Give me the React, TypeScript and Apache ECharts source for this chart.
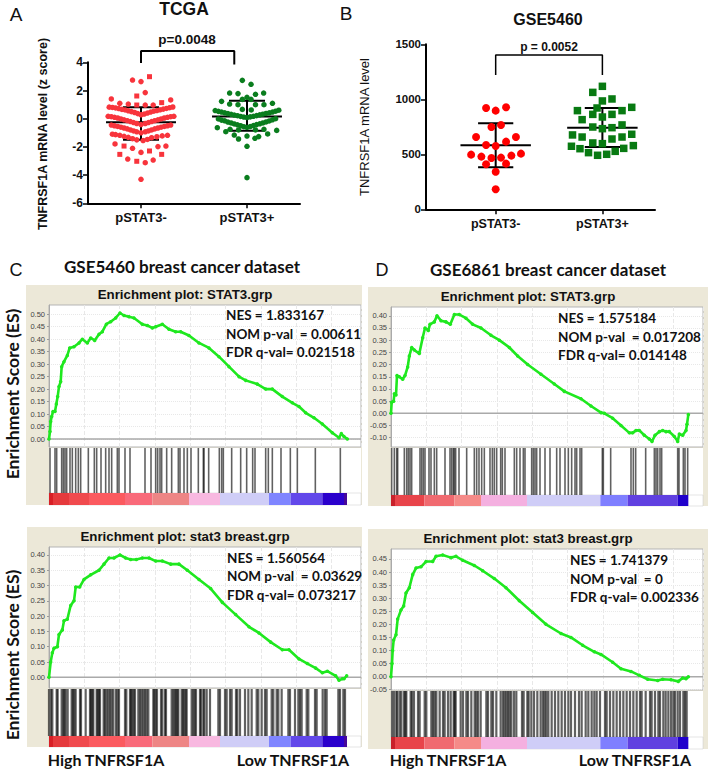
import React, { useEffect, useRef } from "react";
import * as echarts from "echarts";

const groups = ["pSTAT3-", "pSTAT3+"];

// Panel A (TCGA): [offset from group centre, z score]
const tcgaRedCircles = [
  [-0.08, 2.74], [0, 2.63], [0.04, 1.85], [-0.28, 1.4], [0.28, 1.33], [-0.2, 1.09], [-0.12, 1.04], [0.04, 0.97], [0.115, 0.97],
  [-0.3, 0.82], [-0.27, 0.8], [-0.24, 0.76], [-0.21, 0.72], [-0.18, 0.66], [-0.15, 0.62], [-0.12, 0.56], [-0.09, 0.5], [-0.06, 0.44], [-0.03, 0.36], [0, 0.28], [0.03, 0.33], [0.06, 0.4], [0.09, 0.47], [0.12, 0.53], [0.15, 0.58], [0.18, 0.63], [0.21, 0.68], [0.24, 0.73], [0.27, 0.78], [0.3, 0.83],
  [-0.31, 0.17], [-0.28, 0.14], [-0.25, 0.1], [-0.22, 0.05], [-0.19, -0.02], [-0.16, -0.08], [-0.13, -0.14], [-0.1, -0.2], [-0.07, -0.27], [-0.04, -0.34], [0, -0.42], [0.04, -0.34], [0.07, -0.27], [0.1, -0.2], [0.13, -0.14], [0.16, -0.08], [0.19, -0.02], [0.22, 0.05], [0.25, 0.1], [0.28, 0.14], [0.31, 0.17],
  [-0.28, -0.45], [-0.25, -0.5], [-0.22, -0.55], [-0.19, -0.6], [-0.16, -0.66], [-0.13, -0.72], [-0.1, -0.8], [-0.07, -0.87], [-0.04, -0.93], [0, -1], [0.04, -0.93], [0.07, -0.87], [0.1, -0.8], [0.13, -0.72], [0.16, -0.66], [0.19, -0.6], [0.22, -0.55], [0.25, -0.5], [0.28, -0.45],
  [-0.27, -1.1], [-0.24, -1.13], [-0.2, -1.18], [-0.16, -1.25], [-0.12, -1.32], [-0.08, -1.42], [-0.04, -1.5], [0.02, -1.55], [0.06, -1.47], [0.1, -1.35], [0.15, -1.28], [0.2, -1.22], [0.25, -1.18],
  [-0.245, -1.79], [-0.08, -2.1], [0, -2.39], [0.16, -1.98], [0.235, -1.94], [-0.125, -2.86], [0.04, -3.12], [0.115, -2.93], [0, -4.3],
];
const tcgaRedSquares = [
  [0.08, 2.98], [-0.04, 1.61], [0.195, 1.14], [-0.04, 0.97], [-0.16, -1.94], [0.08, -2.29], [-0.2, -2.53], [0.195, -2.53], [-0.04, -3.02],
];
const tcgaGreen = [
  [-0.044, 2.72], [0.038, 2.44], [-0.164, 1.82], [-0.085, 1.78], [0.08, 1.73], [0.157, 1.82], [-0.044, 1.37], [0, 1.52], [0.038, 1.37], [-0.24, 1.23], [0.24, 1.09],
  [-0.164, 1.04], [-0.085, 0.99], [0.08, 0.99], [0.16, 0.99], [-0.044, 0.66], [0.04, 0.62],
  [-0.3, 0.58], [-0.27, 0.52], [-0.24, 0.47], [-0.21, 0.42], [-0.18, 0.36], [-0.15, 0.31], [-0.12, 0.26], [-0.09, 0.21], [-0.06, 0.16], [-0.03, 0.12], [0, 0.08], [0.03, 0.13], [0.06, 0.17], [0.09, 0.22], [0.12, 0.27], [0.15, 0.32], [0.18, 0.37], [0.21, 0.42], [0.24, 0.47], [0.27, 0.53], [0.3, 0.6],
  [-0.27, -0.02], [-0.24, -0.1], [-0.21, -0.15], [-0.18, -0.24], [-0.15, -0.3], [-0.12, -0.37], [-0.09, -0.43], [-0.06, -0.5], [-0.03, -0.57], [0, -0.62], [0.03, -0.56], [0.06, -0.49], [0.09, -0.42], [0.12, -0.36], [0.15, -0.3], [0.18, -0.23], [0.21, -0.16], [0.24, -0.08], [0.27, 0],
  [-0.28, -0.64], [-0.2, -0.92], [-0.16, -0.75], [-0.08, -0.8], [0.08, -0.8], [0.16, -0.75], [-0.12, -1.16], [-0.08, -1.44], [0, -1.23], [0.075, -1.39], [0.11, -1.27], [0.195, -1.08], [0.28, -0.83], [0, -1.96], [0, -4.18],
];
// Panel B (GSE5460): [offset from group centre, expression]
const gseRed = [
  [-0.09, 921], [0, 897], [0.097, 927], [-0.04, 748], [0.05, 767], [-0.184, 657], [0.19, 657], [0.097, 615], [-0.09, 585], [0, 576],
  [-0.23, 497], [0.237, 506], [-0.134, 479], [0.147, 488], [-0.04, 467], [0.05, 470], [-0.09, 409], [0.097, 415], [0, 342], [0, 182],
];
const gseGreen = [
  [0, 1118], [-0.09, 1063], [0.09, 1003], [0, 985], [-0.234, 897], [-0.05, 921], [0.184, 897], [0.275, 927], [-0.09, 863], [0.09, 863], [0, 839], [-0.19, 815],
  [-0.09, 748], [0, 733], [0.09, 742], [0.184, 767], [-0.28, 676], [-0.19, 657], [0.275, 682], [0.184, 657], [0.09, 639], [-0.09, 603], [0, 597], [-0.29, 573], [0.29, 579],
  [-0.21, 551], [0.2, 554], [-0.13, 515], [0.12, 527], [-0.045, 491], [0.04, 500],
];
// [group position, mean, upper, lower]
const tcgaStats = [[1, -0.25, 0.81, -1.5], [2, 0.15, 1.28, -0.85]];
const gseStats = [[1, 582, 782, 382], [2, 742, 921, 567]];
const tcgaBracket = [[1, 3.95], [1, 4.8], [1.88, 4.8], [1.88, 3.85]];
const gseBracket = [[1, 1221], [1, 1403], [2, 1403], [2, 1221]];

// GSEA running enrichment scores: [rank, ES]
const esC1 = [[0,0],[3,.03],[5,.07],[8,.09],[12,.11],[18,.11],[22,.14],[26,.17],[30,.21],[35,.23],[38,.29],[45,.31],[55,.335],[62,.365],[75,.37],[90,.385],[100,.40],[115,.385],[125,.405],[137,.395],[150,.42],[160,.43],[172,.46],[185,.47],[200,.485],[213,.505],[225,.495],[240,.49],[255,.485],[280,.46],[295,.455],[310,.445],[320,.45],[340,.46],[360,.44],[380,.43],[395,.43],[420,.415],[450,.385],[480,.365],[510,.33],[540,.29],[570,.25],[590,.235],[625,.22],[650,.20],[670,.20],[700,.17],[730,.145],[750,.13],[770,.105],[795,.085],[820,.06],[850,.025],[870,.005],[877,.022],[885,.01],[895,0]];
const esD1 = [[0,0],[2,.045],[8,.05],[10,.08],[15,.075],[18,.155],[25,.15],[35,.14],[42,.155],[50,.19],[55,.235],[62,.27],[70,.26],[85,.245],[95,.31],[102,.35],[112,.34],[117,.365],[130,.375],[138,.40],[150,.38],[165,.375],[178,.365],[190,.405],[205,.405],[225,.39],[245,.365],[270,.35],[300,.32],[325,.30],[355,.27],[380,.235],[410,.20],[450,.16],[490,.12],[520,.09],[570,.06],[600,.03],[630,.003],[640,0],[665,-.02],[690,-.05],[715,-.08],[725,-.08],[735,-.07],[745,-.07],[760,-.09],[775,-.105],[783,-.115],[792,-.09],[805,-.075],[815,-.07],[825,-.075],[835,-.075],[850,-.095],[860,-.115],[865,-.085],[875,-.09],[885,-.07],[888,-.045],[892,-.005]];
const esC2 = [[0,0],[5,.05],[10,.08],[15,.095],[25,.10],[30,.14],[40,.155],[45,.185],[55,.19],[65,.235],[75,.25],[80,.295],[92,.295],[105,.32],[125,.335],[150,.35],[165,.37],[180,.39],[195,.39],[213,.40],[230,.39],[245,.385],[262,.385],[280,.39],[300,.39],[320,.38],[340,.38],[365,.37],[390,.37],[415,.35],[450,.32],[485,.29],[520,.245],[560,.205],[600,.165],[630,.145],[665,.115],[700,.09],[720,.09],[750,.06],[775,.045],[800,.03],[820,.015],[835,.02],[860,.005],[870,-.01],[880,-.005],[885,-.005],[893,.005]];
const esD2 = [[0,0],[3,.05],[5,.10],[8,.14],[15,.16],[20,.22],[30,.255],[38,.27],[45,.32],[55,.34],[65,.39],[75,.415],[90,.42],[105,.44],[125,.44],[135,.46],[155,.465],[180,.455],[195,.46],[215,.445],[250,.425],[275,.405],[310,.375],[345,.34],[385,.29],[425,.245],[465,.20],[510,.165],[540,.15],[575,.12],[610,.095],[630,.085],[665,.055],[690,.03],[720,.02],[745,.005],[770,-.01],[800,-.015],[815,-.01],[840,-.012],[862,-.018],[875,-.005],[885,-.008],[892,0]];

// Gene-set hit ranks
const hitsC1 = [3,18,23,38,43,48,53,63,70,80,88,95,118,136,143,156,170,180,188,205,210,228,243,288,306,320,326,333,338,353,368,388,393,405,415,426,448,463,465,479,511,518,523,548,575,593,611,618,650,658,670,696,724,745,799,874];
const hitsD1 = [2,10,17,20,40,47,52,57,62,87,92,97,102,114,120,130,137,162,177,182,187,190,194,204,227,250,257,264,272,280,297,304,310,317,329,334,342,370,377,387,397,402,422,427,432,437,447,462,477,497,507,522,532,542,552,557,567,572,634,637,659,720,727,734,764,790,795,800,807,812,860,864,877,882,890];
const hitsC2 = [0,6,10,23,26,38,43,46,50,56,68,72,76,80,93,96,110,123,126,130,133,143,146,150,153,164,168,173,178,183,188,193,201,206,210,228,232,243,246,250,254,258,268,273,278,283,288,293,298,313,316,320,324,336,340,348,351,368,373,377,381,385,388,398,402,406,410,413,428,433,437,441,453,456,463,466,473,483,508,513,528,533,543,548,561,565,573,588,598,608,623,628,638,648,653,668,673,683,688,698,718,723,738,748,753,758,773,778,798,803,821,828,833,868,873,883,888];
const hitsD2 = [3,9,16,19,26,31,39,43,46,59,63,69,81,86,101,106,121,126,131,136,146,156,161,171,179,188,191,194,209,216,226,231,241,251,256,261,269,286,291,301,306,316,329,336,341,346,351,356,361,369,376,393,398,409,413,421,429,439,449,456,461,466,472,482,492,502,512,522,532,540,552,564,572,584,592,602,610,617,627,642,647,657,667,677,687,697,707,717,727,737,747,752,764,777,782,792,802,807,817,824,832,840,847,852,860,867,877,882,887];

// Ranked-list colour strip: [rank from, rank to, colour]
const heatC = [[0,12,"#d81f26"],[12,60,"#e53a3d"],[60,120,"#f04a4e"],[120,228,"#fb5a5f"],[228,310,"#f96a7a"],[310,420,"#ee8585"],[420,513,"#f8b8e0"],[513,660,"#cfcdf7"],[660,725,"#7f85ff"],[725,820,"#6248ea"],[820,885,"#2a00cc"],[885,894,"#45089a"]];
const heatD = [[0,12,"#c8202a"],[12,100,"#e8444a"],[100,190,"#f06a70"],[190,270,"#f58a88"],[270,408,"#f4b0e0"],[408,628,"#cfcdf7"],[628,710,"#7f7fff"],[710,860,"#6040e0"],[860,892,"#2000cc"]];

const ticksC1 = [0,.05,.1,.15,.2,.25,.3,.35,.4,.45,.5];
const ticksD1 = [-.1,-.05,0,.05,.1,.15,.2,.25,.3,.35,.4];
const ticksC2 = [0,.05,.1,.15,.2,.25,.3,.35,.4];
const ticksD2 = [-.05,0,.05,.1,.15,.2,.25,.3,.35,.4,.45];

const statsC1 = ["NES = 1.833167", "NOM p-val  = 0.00611", "FDR q-val= 0.021518"];
const statsD1 = ["NES = 1.575184", "NOM p-val  = 0.017208", "FDR q-val= 0.014148"];
const statsC2 = ["NES = 1.560564", "NOM p-val  = 0.03629", "FDR q-val= 0.073217"];
const statsD2 = ["NES = 1.741379", "NOM p-val  = 0", "FDR q-val= 0.002336"];

const gseaPanels = [
  { title: "Enrichment plot: STAT3.grp", es: esC1, hits: hitsC1, heat: heatC, ticks: ticksC1, stats: statsC1, hitWidth: 1.6, x0: 26, x1: 49, x2: 361, top: 285, plotTop: 305, plotBottom: 447, hitBottom: 493, bottom: 505, yMin: -0.032, yMax: 0.537, statX: 226, statY: 315, statStep: 18.5, titleX: 185, titleY: 294 },
  { title: "Enrichment plot: STAT3.grp", es: esD1, hits: hitsD1, heat: heatD, ticks: ticksD1, stats: statsD1, hitWidth: 1.6, x0: 368, x1: 391, x2: 703, top: 287, plotTop: 307, plotBottom: 447, hitBottom: 495, bottom: 506, yMin: -0.138, yMax: 0.436, statX: 558, statY: 318, statStep: 18.5, titleX: 528, titleY: 296 },
  { title: "Enrichment plot: stat3 breast.grp", es: esC2, hits: hitsC2, heat: heatC, ticks: ticksC2, stats: statsC2, hitWidth: 2.2, x0: 27, x1: 49, x2: 361, top: 527, plotTop: 547, plotBottom: 688, hitBottom: 736, bottom: 747, yMin: -0.035, yMax: 0.426, statX: 227, statY: 558, statStep: 18.3, titleX: 185, titleY: 536 },
  { title: "Enrichment plot: stat3 breast.grp", es: esD2, hits: hitsD2, heat: heatD, ticks: ticksD2, stats: statsD2, hitWidth: 2.2, x0: 368, x1: 391, x2: 703, top: 529, plotTop: 549, plotBottom: 690, hitBottom: 737, bottom: 749, yMin: -0.051, yMax: 0.488, statX: 570, statY: 560, statStep: 18.5, titleX: 528, titleY: 538 },
];

const ARIAL = "Liberation Sans";
const LATO = "Lato";
const text = (s: string, x: number, y: number, size: number, opt: any = {}) => ({
  type: "text",
  x,
  y,
  z: 100,
  rotation: opt.rotation || 0,
  silent: true,
  style: {
    text: s,
    fontSize: size,
    fontWeight: opt.weight || "normal",
    fontFamily: opt.family || ARIAL,
    fill: opt.fill || "#111",
    textAlign: opt.align || "center",
    textVerticalAlign: "middle",
    align: opt.align || "center",
    verticalAlign: "middle",
  },
});

const blackLine = (data: number[][], axis: number, width: number, z = 1) => ({
  type: "line",
  xAxisIndex: axis,
  yAxisIndex: axis,
  data,
  symbol: "none",
  silent: true,
  clip: false,
  z,
  lineStyle: { color: "#000", width },
});

const errorBars = (stats: number[][], axis: number, meanHalf: number, capHalf: number, width: number) =>
  stats.flatMap(([c, mean, hi, lo]) => [
    blackLine([[c - meanHalf, mean], [c + meanHalf, mean]], axis, width),
    blackLine([[c - capHalf, hi], [c + capHalf, hi], [c, hi], [c, lo], [c - capHalf, lo], [c + capHalf, lo]], axis, width),
  ]);

const dots = (pts: number[][], group: number, axis: number, symbol: string, size: number, color: string) => ({
  type: "scatter",
  xAxisIndex: axis,
  yAxisIndex: axis,
  symbol,
  symbolSize: size,
  z: 3,
  silent: true,
  itemStyle: { color, opacity: 1 },
  data: pts.map(([dx, v]) => [group + dx, v]),
});

function buildOption() {
  const grid: any[] = [
    { left: 88, top: 62.3, width: 212, height: 141 },
    { left: 426, top: 44.3, width: 229, height: 165 },
  ];
  const dotAxis = (gridIndex: number, min: number, max: number, size: number) => ({
    gridIndex,
    type: "value",
    min,
    max,
    splitLine: { show: false },
    axisLine: { onZero: false, lineStyle: { color: "#000", width: 2 } },
    axisTick: { customValues: [1, 2], length: 5, lineStyle: { color: "#000", width: 1.5 } },
    axisLabel: {
      customValues: [1, 2],
      formatter: (v: number) => groups[v - 1] || "",
      fontFamily: ARIAL,
      fontWeight: "bold",
      fontSize: size,
      color: "#111",
      margin: 8,
    },
  });
  const valAxis = (gridIndex: number, min: number, max: number, interval: number, size: number) => ({
    gridIndex,
    type: "value",
    min,
    max,
    interval,
    splitLine: { show: false },
    axisLine: { show: true, onZero: false, lineStyle: { color: "#000", width: 2 } },
    axisTick: { show: true, length: 5, lineStyle: { color: "#000", width: 1.5 } },
    axisLabel: { formatter: (v: number) => String(v), fontFamily: ARIAL, fontWeight: "bold", fontSize: size, color: "#111", margin: 5 },
  });
  const xAxis: any[] = [dotAxis(0, 0.5, 2.5, 13), dotAxis(1, 0.347, 2.493, 12.5)];
  const yAxis: any[] = [valAxis(0, -6, 4, 2, 12), valAxis(1, 0, 1500, 500, 11.5)];

  const series: any[] = [
    ...errorBars(tcgaStats, 0, 0.33, 0.17, 2),
    ...errorBars(gseStats, 1, 0.33, 0.165, 2),
    blackLine(tcgaBracket, 0, 2),
    blackLine(gseBracket, 1, 1.5),
    dots(tcgaRedCircles, 1, 0, "circle", 5.5, "#f8343c"),
    dots(tcgaRedSquares, 1, 0, "rect", 5, "#f8343c"),
    dots(tcgaGreen, 2, 0, "circle", 5.5, "#0a7d1e"),
    dots(gseRed, 1, 1, "circle", 8, "#ff0000"),
    dots(gseGreen, 2, 1, "rect", 7.5, "#087a12"),
  ];
  const graphic: any[] = [
    text("A", 16, 14, 19),
    text("B", 346, 13, 19),
    text("C", 16, 270, 18),
    text("D", 382, 270, 18),
    text("TCGA", 184, 9, 17.5, { weight: "bold" }),
    text("GSE5460", 548, 19, 16, { weight: "bold" }),
    text("p=0.0048", 187, 39, 13.5, { weight: "bold" }),
    text("p = 0.0052", 549, 46.5, 12, { weight: "bold" }),
    text("TNFRSF1A mRNA level (z score)", 43, 134, 12.5, { weight: "bold", rotation: Math.PI / 2 }),
    text("TNFRSF1A mRNA level", 364, 127, 13, { rotation: Math.PI / 2 }),
    text("GSE5460 breast cancer dataset", 182, 266, 17, { weight: "bold", family: LATO }),
    text("GSE6861 breast cancer dataset", 548, 269, 17, { weight: "bold", family: LATO }),
    text("Enrichment Score (ES)", 12, 394, 17.5, { weight: "bold", family: LATO, rotation: Math.PI / 2 }),
    text("Enrichment Score (ES)", 12, 655, 17.5, { weight: "bold", family: LATO, rotation: Math.PI / 2 }),
    text("High TNFRSF1A", 106, 759, 16, { weight: "bold", family: LATO }),
    text("Low TNFRSF1A", 293, 759, 16, { weight: "bold", family: LATO }),
    text("High TNFRSF1A", 448, 759, 16, { weight: "bold", family: LATO }),
    text("Low TNFRSF1A", 635, 759, 16, { weight: "bold", family: LATO }),
  ];

  gseaPanels.forEach((p) => {
    const width = p.x2 - p.x1;
    graphic.push({
      type: "rect",
      z: -1,
      silent: true,
      shape: { x: p.x0, y: p.top, width: p.x2 - p.x0 + (p.x2 > 400 ? 5 : 1), height: p.bottom - p.top },
      style: { fill: "#ece8d8" },
    });
    graphic.push(text(p.title, p.titleX, p.titleY, 13.3, { weight: "bold" }));
    p.stats.forEach((s, i) => graphic.push(text(s, p.statX, p.statY + i * p.statStep, 13.5, { align: "left", weight: "bold", family: LATO })));

    const base = grid.length;
    grid.push({ show: true, left: p.x1, top: p.plotTop, width, height: p.plotBottom - p.plotTop, backgroundColor: "#fff", borderColor: "#b5b5b5", borderWidth: 1 });
    grid.push({ show: true, left: p.x1, top: p.plotBottom + 1, width, height: p.hitBottom - p.plotBottom - 1, backgroundColor: "#fff", borderWidth: 0 });
    grid.push({ show: true, left: p.x1, top: p.hitBottom, width, height: p.bottom - p.hitBottom, backgroundColor: "#fff", borderColor: "#c8c8c8", borderWidth: 0.5 });

    xAxis.push({
      gridIndex: base, type: "value", min: 0, max: 936, interval: 106,
      axisLine: { show: false }, axisTick: { show: false }, axisLabel: { show: false },
      splitLine: { show: true, lineStyle: { color: "#e8e8e8", type: "dashed", width: 1 } },
    });
    yAxis.push({
      gridIndex: base, type: "value", min: p.yMin, max: p.yMax,
      axisLine: { show: true, onZero: false, lineStyle: { color: "#aaa" } },
      axisTick: { customValues: p.ticks, length: 2, lineStyle: { color: "#999" } },
      axisLabel: { customValues: p.ticks, formatter: (v: number) => v.toFixed(2), fontSize: 7.5, fontFamily: ARIAL, color: "#444", margin: 4 },
      splitLine: { show: true, lineStyle: { color: "#e8e8e8", type: "dotted" } },
    });
    for (let k = 1; k <= 2; k++) {
      xAxis.push({ gridIndex: base + k, type: "value", min: 0, max: 936, show: false });
      yAxis.push({ gridIndex: base + k, type: "value", min: 0, max: 1, show: false });
    }
    series.push({
      type: "line", xAxisIndex: base, yAxisIndex: base, silent: true, symbol: "none", z: 2,
      lineStyle: { color: "#aaaaaa", width: 1.5 }, data: [[0, 0], [936, 0]],
    });
    series.push({
      type: "line", xAxisIndex: base, yAxisIndex: base, silent: true, z: 3,
      symbol: "circle", symbolSize: 3.5, showAllSymbol: true,
      itemStyle: { color: "#1fe81f" }, lineStyle: { color: "#1fe81f", width: 2.6 }, data: p.es,
    });
    series.push({
      type: "custom", xAxisIndex: base + 1, yAxisIndex: base + 1, silent: true,
      data: p.hits.map((r) => [r, 0]),
      encode: { x: 0, y: 1 },
      renderItem: (params: any, api: any) => {
        const x = api.coord([api.value(0), 0])[0];
        const c = params.coordSys;
        return { type: "rect", shape: { x: x - p.hitWidth / 2, y: c.y, width: p.hitWidth, height: c.height }, style: { fill: "#000", opacity: 0.62 } };
      },
    });
    series.push({
      type: "custom", xAxisIndex: base + 2, yAxisIndex: base + 2, silent: true,
      data: p.heat.map((h) => [h[0], h[1]]),
      encode: { x: [0, 1] },
      renderItem: (params: any, api: any) => {
        const a = api.coord([api.value(0), 0])[0];
        const b = api.coord([api.value(1), 0])[0];
        const c = params.coordSys;
        return { type: "rect", shape: { x: a, y: c.y, width: b - a, height: c.height }, style: { fill: p.heat[params.dataIndex][2] as string } };
      },
    });
  });

  return { animation: false, backgroundColor: "#fff", grid, xAxis, yAxis, series, graphic };
}

export default function App() {
  const ref = useRef<HTMLDivElement>(null);
  useEffect(() => {
    document.body.style.margin = "0";
    const chart = echarts.init(ref.current!, undefined, { renderer: "svg" });
    chart.setOption(buildOption() as any);
    return () => chart.dispose();
  }, []);
  return <div ref={ref} style={{ width: 708, height: 770 }} />;
}
